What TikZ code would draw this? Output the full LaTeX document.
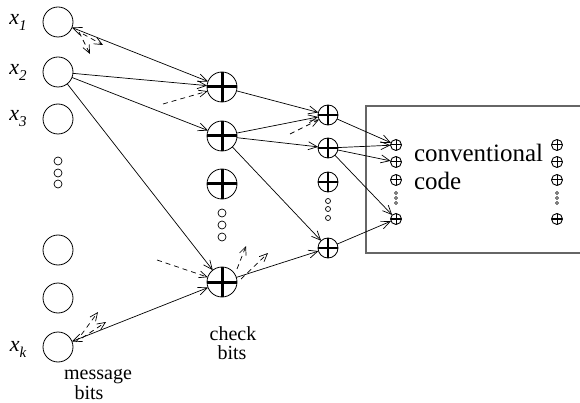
\documentclass[tikz,border=0pt]{standalone}
\usepackage{fontspec}
\setmainfont{Liberation Serif}
\usetikzlibrary{arrows.meta}
\begin{document}
\begin{tikzpicture}[x=1pt,y=-1pt,
  every node/.style={inner sep=0pt, outer sep=0pt},
  msg/.style={circle, draw, line width=0.8pt, minimum size=30pt},
  sdot/.style={circle, draw, line width=0.7pt, minimum size=#1},
  plusc/.style 2 args={circle, draw, line width=0.8pt, minimum size=#1,
    path picture={\draw[line width=#2]
      (path picture bounding box.north) -- (path picture bounding box.south)
      (path picture bounding box.west) -- (path picture bounding box.east);}},
  arr/.style={line width=0.7pt, -{Straight Barb[length=9pt,width=8pt]}},
  darr/.style={line width=0.7pt, {Straight Barb[length=9pt,width=8pt]}-{Straight Barb[length=9pt,width=8pt]}},
  dasharr/.style={line width=0.7pt, dash pattern=on 5pt off 4pt, -{Straight Barb[length=8pt,width=7pt]}},
  lab/.style={font=\fontsize{20}{22}\selectfont},
  xl/.style={font=\fontsize{22}{24}\selectfont\itshape}
]
\useasboundingbox (0,0) rectangle (580,403);

% message bits
\node[msg] (m1) at (58,22) {};
\node[msg] (m2) at (58,72) {};
\node[msg] (m3) at (58,119) {};
\node[sdot=8pt] (md1) at (58,161) {};
\node[sdot=8pt] (md2) at (58,173) {};
\node[sdot=8pt] (md3) at (58,184) {};
\node[msg] (m5) at (58,250) {};
\node[msg] (m6) at (58,298) {};
\node[msg] (mk) at (58,347) {};

\node[xl] (l1) at (18,22) {x\raisebox{-6pt}{\fontsize{15}{15}\selectfont 1}};
\node[xl] (l2) at (18,72) {x\raisebox{-6pt}{\fontsize{15}{15}\selectfont 2}};
\node[xl] (l3) at (18,119) {x\raisebox{-6pt}{\fontsize{15}{15}\selectfont 3}};
\node[xl] (lk) at (18,349) {x\raisebox{-6pt}{\fontsize{15}{15}\selectfont k}};

\node[lab, anchor=base] (mt1) at (98,379) {message};
\node[lab, anchor=base] (mt2) at (89,399) {bits};

% check bits
\node[plusc={30pt}{3pt}] (c1) at (222,87) {};
\node[plusc={30pt}{3pt}] (c2) at (222,136) {};
\node[plusc={30pt}{3pt}] (c3) at (222,184) {};
\node[sdot=8pt] (cd1) at (222,213) {};
\node[sdot=8pt] (cd2) at (222,225) {};
\node[sdot=8pt] (cd3) at (222,237) {};
\node[plusc={30pt}{3pt}] (ck) at (222,282) {};

\node[lab, anchor=base] (ct1) at (233,340) {check};
\node[lab, anchor=base] (ct2) at (232,359) {bits};

% third column
\node[plusc={20pt}{2pt}] (p1) at (328,115) {};
\node[plusc={20pt}{2pt}] (p2) at (328,148) {};
\node[plusc={20pt}{2pt}] (p3) at (328,182) {};
\node[sdot=5pt] (pd1) at (328,201) {};
\node[sdot=5pt] (pd2) at (328,209) {};
\node[sdot=5pt] (pd3) at (328,218) {};
\node[plusc={20pt}{2pt}] (p4) at (328,248) {};

% conventional code box
\draw[line width=1.5pt, draw=black!60] (590,106) -- (366,106) -- (366,253) -- (590,253);
\foreach \xx/\nm in {396/a,557/b}{
  \node[plusc={11pt}{1pt}, line width=0.9pt] (\nm1) at (\xx,145) {};
  \node[plusc={11pt}{1pt}, line width=0.9pt] (\nm2) at (\xx,162) {};
  \node[plusc={11pt}{1pt}, line width=0.9pt] (\nm3) at (\xx,180) {};
  \node[sdot=3pt, line width=0.5pt] (\nm d1) at (\xx,193) {};
  \node[sdot=3pt, line width=0.5pt] (\nm d2) at (\xx,198) {};
  \node[sdot=3pt, line width=0.5pt] (\nm d3) at (\xx,203) {};
  \node[plusc={11pt}{1pt}, line width=0.9pt] (\nm4) at (\xx,219) {};
}
\node[font=\fontsize{25}{28}\selectfont, anchor=base west] (cv1) at (414,162) {conventional};
\node[font=\fontsize{25}{28}\selectfont, anchor=base west] (cv2) at (414,190) {code};

% connectors
\draw[darr] (m1) -- (c1);
\draw[arr] (m2) -- (c1);
\draw[arr] (m2) -- (c2);
\draw[arr] (m2) -- (ck);
\draw[darr] (mk) -- (ck);

\draw[arr] (c1) -- (p1);
\draw[arr] (c2) -- (p1);
\draw[arr] (c2) -- (p2);
\draw[arr] (c2) -- (p4);
\draw[arr] (ck) -- (p4);

\draw[arr] (p1) -- (a1);
\draw[arr] (p2) -- (a1);
\draw[arr] (p2) -- (a2);
\draw[arr] (p2) -- (a4);
\draw[arr] (p4) -- (a4);

% dashed message arrows
\coordinate (s1) at (79,32);
\coordinate (e1) at (90,54);
\coordinate (s2) at (83,34);
\coordinate (e2) at (103,45);
\draw[dasharr] (s1) -- (e1);
\draw[dasharr] (s2) -- (e2);

\coordinate (s3) at (163,104);
\draw[dasharr] (s3) -- (c1);
\coordinate (s4) at (290,134);
\draw[dasharr] (s4) -- (p1);
\coordinate (s5) at (157,260);
\draw[dasharr] (s5) -- (ck);

\coordinate (s6) at (237,269);
\coordinate (e6) at (246,246);
\coordinate (s7) at (241,279);
\coordinate (e7) at (268,253);
\draw[dasharr] (s6) -- (e6);
\draw[dasharr] (s7) -- (e7);

\coordinate (s8) at (76,342);
\coordinate (e8) at (98,312);
\coordinate (s9) at (82,338);
\coordinate (e9) at (106,322);
\draw[dasharr] (s8) -- (e8);
\draw[dasharr] (s9) -- (e9);
\end{tikzpicture}
\end{document}
